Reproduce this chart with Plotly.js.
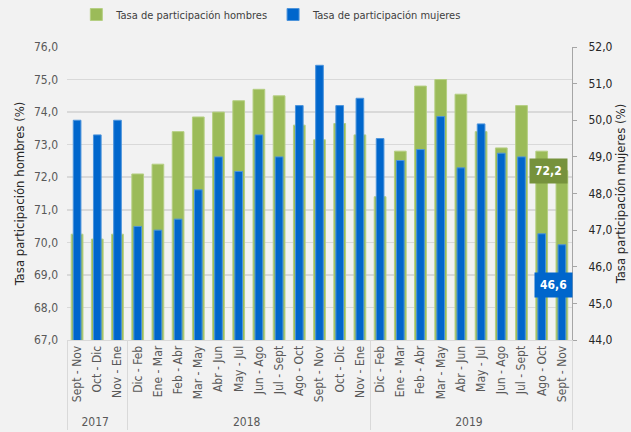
<!DOCTYPE html>
<html><head><meta charset="utf-8">
<script src="https://cdn.plot.ly/plotly-3.0.1.min.js"></script>
<style>body{margin:0;background:#f2f2f2}#c{width:631px;height:432px}</style>
</head><body><div id="c"></div>
<script>
const years = ["2017","2017","2017",
  "2018","2018","2018","2018","2018","2018","2018","2018","2018","2018","2018","2018",
  "2019","2019","2019","2019","2019","2019","2019","2019","2019","2019"];
const periods = ["Sept - Nov","Oct - Dic","Nov - Ene",
  "Dic - Feb","Ene - Mar","Feb - Abr","Mar - May","Abr - Jun","May - Jul","Jun - Ago","Jul - Sept","Ago - Oct","Sept - Nov","Oct - Dic","Nov - Ene",
  "Dic - Feb","Ene - Mar","Feb - Abr","Mar - May","Abr - Jun","May - Jul","Jun - Ago","Jul - Sept","Ago - Oct","Sept - Nov"];
const hombres = [70.25,70.1,70.25,72.1,72.4,73.4,73.85,74.0,74.35,74.7,74.5,73.6,73.15,73.65,73.3,71.4,72.8,74.8,75.0,74.55,73.4,72.9,74.2,72.8,72.2];
const mujeres = [50.0,49.6,50.0,47.1,47.0,47.3,48.1,49.0,48.6,49.6,49.0,50.4,51.5,50.4,50.6,49.5,48.9,49.2,50.1,48.7,49.9,49.1,49.0,46.9,46.6];
const nameH = "Tasa de participación hombres";
const nameM = "Tasa de participación mujeres";
const fnt = "Liberation Sans Narrow, DejaVu Sans Condensed, Open Sans, sans-serif";
const txt = "#404040";
const n = periods.length;
const fmt = v => v.toFixed(1).replace(".", ",");
// keep categories unique so Plotly preserves order within each year group
const yearList = [...new Set(years)];
const keys = periods.map((p, i) => p + "\u200b".repeat(yearList.indexOf(years[i])));

const traces = [
  {type:"bar", name:nameH, x:[years, keys], y:hombres, width:0.58,
   marker:{color:"#9bbb59", line:{color:"#b5cf83", width:1}}, yaxis:"y", hoverinfo:"y"},
  {type:"bar", name:nameM, x:[years, keys], y:mujeres, width:0.38,
   marker:{color:"#0066cc", line:{color:"#4d94db", width:1}}, yaxis:"y2", hoverinfo:"y"}
];

const layout = {
  width:631, height:432,
  paper_bgcolor:"#f2f2f2", plot_bgcolor:"#f2f2f2",
  separators:",.",
  barmode:"overlay",
  margin:{l:67, r:59, t:47, b:92},
  font:{family:fnt, size:12, color:txt},
  showlegend:true,
  legend:{orientation:"h", x:0.43, xanchor:"center", y:1, yanchor:"top",
          yref:"container", xref:"container", font:{family:fnt, size:11, color:txt}, traceorder:"normal",
          bgcolor:"rgba(0,0,0,0)"},
  xaxis:{type:"multicategory",
         tickangle:-90, tickfont:{family:fnt, size:12, color:"#595959"},
         showline:true, linecolor:"#d9d9d9", linewidth:1, showdividers:true, dividercolor:"#d9d9d9",
         dividerwidth:1, ticks:"", showgrid:false},
  yaxis:{range:[67,76], dtick:1, tickformat:".1f", showgrid:true, gridcolor:"#d9d9d9", gridwidth:1.5,
         zeroline:false, showline:false, ticks:"", ticklabelstandoff:8, tickfont:{family:fnt, size:12, color:"#595959"},
         title:{text:"Tasa participación hombres (%)", font:{family:fnt, size:13, color:"#262626"}, standoff:6}},
  yaxis2:{range:[44,52], dtick:1, tickformat:".1f", overlaying:"y", side:"right", showgrid:false,
          zeroline:false, showline:true, linecolor:"#a6a6a6", linewidth:1, ticks:"outside", ticklen:4,
          ticklabelstandoff:9,
          tickcolor:"#a6a6a6", tickfont:{family:fnt, size:12, color:"#262626"},
          title:{text:"Tasa participación mujeres (%)", font:{family:fnt, size:13, color:"#262626"}, standoff:4}},
  annotations:[
    {x:1, xref:"paper", xanchor:"right", xshift:-4, y:hombres[n-1], yref:"y", text:"<b>"+fmt(hombres[n-1])+"</b>",
     showarrow:false, bgcolor:"#76923c", font:{family:fnt, size:12, color:"#ffffff"}, borderpad:5},
    {x:1, xref:"paper", xanchor:"right", xshift:1, y:mujeres[n-1]-1.1, yref:"y2", text:"<b>"+fmt(mujeres[n-1])+"</b>",
     showarrow:false, bgcolor:"#0066cc", font:{family:fnt, size:12, color:"#ffffff"}, borderpad:5}
  ]
};
Plotly.newPlot("c", traces, layout, {displayModeBar:false, staticPlot:true});
</script></body></html>
